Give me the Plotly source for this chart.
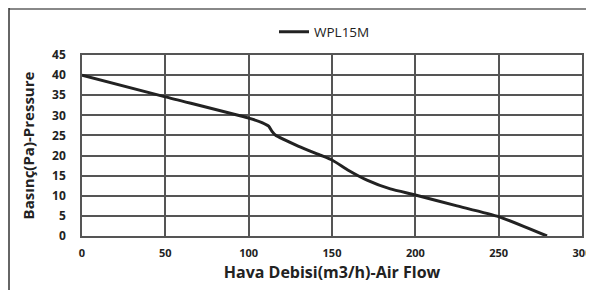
import plotly.graph_objects as go

air_flow = [0, 50, 100, 108, 112, 114, 116, 130, 143, 150, 160, 171, 185, 200, 225, 250, 279]
pressure = [40, 34.6, 29.3, 28.2, 27.3, 26.0, 25.1, 22.3, 20.1, 18.9, 16.3, 13.9, 11.7, 10.2, 7.5, 4.8, 0]
series_name = "WPL15M"
x_ticks = [0, 50, 100, 150, 200, 250, 300]
y_ticks = [0, 5, 10, 15, 20, 25, 30, 35, 40, 45]

font_fam = "Open Sans, Noto Sans, sans-serif"

# The page body has an 8px default margin, so the figure is sized/offset to compensate.
W, H = 594, 282

fig = go.Figure()
fig.add_trace(go.Scatter(
    x=air_flow, y=pressure, mode="lines", name=series_name,
    line=dict(color="#222222", width=3, shape="spline", smoothing=0.5),
))

fig.update_layout(
    width=W, height=H, autosize=False,
    margin=dict(l=74, r=20, t=47, b=54, autoexpand=False),
    paper_bgcolor="white", plot_bgcolor="white",
    showlegend=True,
    legend=dict(orientation="h", xref="container", yref="container",
                x=266/W, y=1 - 24/H, xanchor="left", yanchor="middle",
                font=dict(family=font_fam, size=13.5, color="#222222"),
                bgcolor="rgba(0,0,0,0)", itemwidth=30),
    font=dict(family=font_fam, color="#222222"),
    xaxis=dict(range=[0, 300], tickvals=x_ticks, showgrid=True, gridcolor="#555555", gridwidth=1.5,
               zeroline=False, showline=True, linecolor="#555555", linewidth=1.5, mirror=True,
               ticks="", ticklabelstandoff=6, automargin=False, ticklabeloverflow="allow",
               tickfont=dict(family=font_fam, size=11, color="#222222", weight="bold"),
               title=dict(text="<b>Hava Debisi(m3/h)-Air Flow</b>", font=dict(size=16, family=font_fam), standoff=8)),
    yaxis=dict(range=[0, 45], tickvals=y_ticks, showgrid=True, gridcolor="#555555", gridwidth=1.5,
               zeroline=False, showline=True, linecolor="#555555", linewidth=1.5, mirror=True,
               ticks="", ticklabelstandoff=12, automargin=False,
               tickfont=dict(family=font_fam, size=12, color="#222222", weight="bold"),
               title=dict(text="<b>Basınç(Pa)-Pressure</b>", font=dict(size=15, family=font_fam), standoff=14)),
    shapes=[
        dict(type="line", xref="paper", yref="paper", x0=-0.146, x1=1.02, y0=227/181, y1=227/181,
             line=dict(color="#888888", width=2)),
        dict(type="line", xref="paper", yref="paper", x0=-0.146, x1=-0.146, y0=228/181, y1=-0.4,
             line=dict(color="#333333", width=1.5)),
    ],
)

fig.write_html("out.html")
